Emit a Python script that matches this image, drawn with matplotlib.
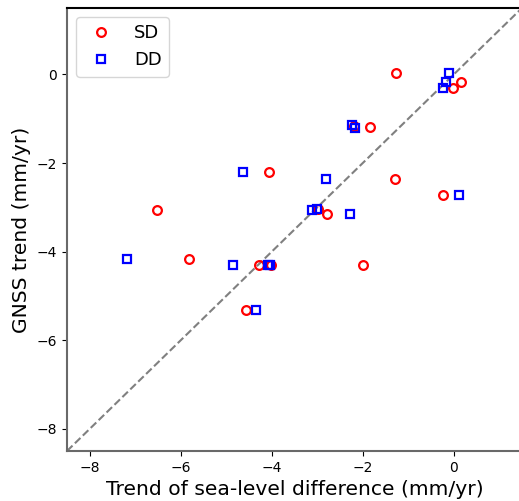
import matplotlib
matplotlib.use("Agg")
import matplotlib.pyplot as plt

# Trend values (mm/yr)
sd_x = [-1.27, -0.01, 0.15, -1.84, -2.19, -4.05, -1.29, -0.24,
        -6.52, -2.78, -2.98, -5.82, -4.29, -4.02, -2.00, -4.56]
sd_y = [0.03, -0.30, -0.16, -1.19, -1.17, -2.21, -2.35, -2.71,
        -3.06, -3.16, -3.04, -4.17, -4.31, -4.31, -4.31, -5.32]

dd_x = [-0.11, -0.18, -0.24, -2.23, -2.17, -4.64, -2.80, 0.12,
        -3.11, -3.00, -2.28, -7.19, -4.86, -4.08, -4.03, -4.34]
dd_y = [0.04, -0.16, -0.30, -1.15, -1.20, -2.21, -2.35, -2.71,
        -3.06, -3.04, -3.16, -4.17, -4.31, -4.31, -4.31, -5.32]

lims = [-8.5, 1.5]
ticks = [-8, -6, -4, -2, 0]

fig = plt.figure(figsize=(5.19, 5.01), dpi=100)
ax = fig.add_axes([67 / 519, 50 / 501, 455 / 519, 443 / 501])

# 1:1 reference line
ax.plot(lims, lims, "--", color="gray", lw=1.5, zorder=1)
ax.plot(sd_x, sd_y, "o", mfc="none", mec="red", mew=1.6, ms=6.3, ls="none", label="SD")
ax.plot(dd_x, dd_y, "s", mfc="none", mec="blue", mew=1.6, ms=6.3, ls="none", label="DD")

ax.set_xlim(lims)
ax.set_ylim(lims)
ax.set_xticks(ticks)
ax.set_yticks(ticks)
ax.tick_params(labelsize=10, colors="black")

for side in ["left", "bottom"]:
    ax.spines[side].set_color("dimgray")
    ax.spines[side].set_linewidth(1.5)
ax.spines["top"].set_linewidth(1.5)
ax.spines["right"].set_visible(False)

ax.set_xlabel("Trend of sea-level difference (mm/yr)", fontsize=14.6)
ax.set_ylabel("GNSS trend (mm/yr)", fontsize=14.6)
ax.legend(loc="upper left", fontsize=13)

fig.savefig("out.png", dpi=100)
